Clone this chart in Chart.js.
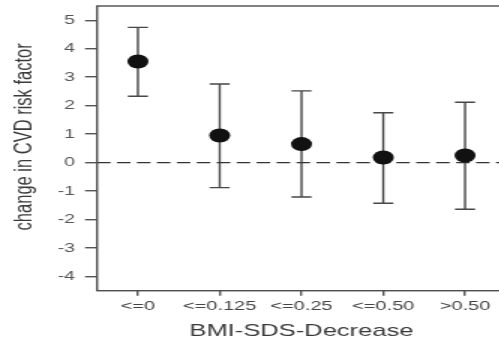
<!DOCTYPE html>
<html>
<head>
<meta charset="utf-8">
<script src="https://cdn.jsdelivr.net/npm/chart.js@4/dist/chart.umd.min.js"></script>
<style>
  html, body { margin: 0; padding: 0; overflow: hidden; background: #fff; }
  /* the figure is drawn narrow and stretched sideways */
  #wrap { width: 338px; height: 352px; transform: scaleX(1.5); transform-origin: 0 0; }
  canvas { display: block; }
</style>
</head>
<body>
<div id="wrap"><canvas id="riskChart" width="338" height="352"></canvas></div>
<script>
const groups = ['<=0', '<=0.125', '<=0.25', '<=0.50', '>0.50'];
const meanChange = [3.55, 0.95, 0.65, 0.18, 0.25];
const ciLower = [2.33, -0.88, -1.21, -1.43, -1.64];
const ciUpper = [4.75, 2.76, 2.52, 1.75, 2.12];
const yTicks = [-4, -3, -2, -1, 0, 1, 2, 3, 4, 5];
const baseline = 0;
const yTitle = 'change in CVD risk factor';

const fontFamily = '"Liberation Sans", Arial, sans-serif';
const ctx = document.getElementById('riskChart').getContext('2d');

// error bars with short caps, drawn under the points
const errorBars = {
  id: 'errorBars',
  beforeDatasetsDraw(chart) {
    const c = chart.ctx;
    const x = chart.scales.x;
    const y = chart.scales.y;
    c.save();
    c.strokeStyle = '#474747';
    c.lineWidth = 1.4;
    groups.forEach((g, i) => {
      const px = x.getPixelForValue(i + 1);
      const lo = y.getPixelForValue(ciLower[i]);
      const hi = y.getPixelForValue(ciUpper[i]);
      c.beginPath();
      c.moveTo(px, lo); c.lineTo(px, hi);
      c.moveTo(px - 6.7, lo); c.lineTo(px + 6.7, lo);
      c.moveTo(px - 6.7, hi); c.lineTo(px + 6.7, hi);
      c.stroke();
    });
    c.restore();
  }
};

// box round the plot area, plus the y title set a little above centre
const frame = {
  id: 'frame',
  afterDraw(chart) {
    const a = chart.chartArea;
    const c = chart.ctx;
    c.save();
    c.strokeStyle = '#4d4d4d';
    c.lineWidth = 1.4;
    c.strokeRect(a.left, a.top, a.right - a.left, a.bottom - a.top);
    c.translate(16.7, (a.top + a.bottom) / 2 - 11.5);
    c.rotate(-Math.PI / 2);
    c.fillStyle = '#3a3a3a';
    c.font = '16.5px ' + fontFamily;
    c.textAlign = 'center';
    c.textBaseline = 'middle';
    c.fillText(yTitle, 0, 0);
    c.restore();
  }
};

const riskChart = new Chart(ctx, {
  type: 'scatter',
  data: {
    datasets: [{
      label: 'mean change',
      data: meanChange.map((v, i) => ({ x: i + 1, y: v })),
      pointRadius: 7,
      pointBackgroundColor: '#111',
      pointBorderWidth: 0
    }, {
      label: 'zero',
      data: [{ x: 0.5, y: baseline }, { x: 5.5, y: baseline }],
      showLine: true,
      borderColor: '#333',
      borderWidth: 1.3,
      borderDash: [9, 4.3],
      pointRadius: 0
    }]
  },
  options: {
    responsive: false,
    animation: false,
    layout: { autoPadding: false, padding: { top: 6, left: 0, right: 0.7, bottom: 0 } },
    plugins: { legend: { display: false }, tooltip: { enabled: false } },
    scales: {
      x: {
        type: 'linear',
        min: 0.5,
        max: 5.5,
        afterBuildTicks: s => { s.ticks = groups.map((g, i) => ({ value: i + 1 })); },
        afterFit: s => { s.height = 61.3; s.paddingLeft = 0; s.paddingRight = 0; },
        ticks: {
          callback: (v, i) => groups[i],
          autoSkip: false,
          maxRotation: 0,
          padding: 3,
          color: '#444',
          font: { family: fontFamily, size: 13.3 }
        },
        grid: { drawOnChartArea: false, tickLength: 5, color: '#555', lineWidth: 1.4 },
        border: { display: false },
        title: {
          display: true,
          text: 'BMI-SDS-Decrease',
          color: '#3a3a3a',
          font: { family: fontFamily, size: 17 },
          padding: { top: 0, bottom: 10 }
        }
      },
      y: {
        min: -4.5,
        max: 5.5,
        afterBuildTicks: s => { s.ticks = yTicks.map(v => ({ value: v })); },
        afterFit: s => { s.width = 64.7; s.paddingTop = 0; s.paddingBottom = 0; },
        ticks: {
          padding: 6.7,
          color: '#555',
          font: { family: fontFamily, size: 13 }
        },
        grid: { drawOnChartArea: false, tickLength: 8, color: '#555', lineWidth: 1.4 },
        border: { display: false },
        title: { display: false }
      }
    }
  },
  plugins: [errorBars, frame]
});
</script>
</body>
</html>
